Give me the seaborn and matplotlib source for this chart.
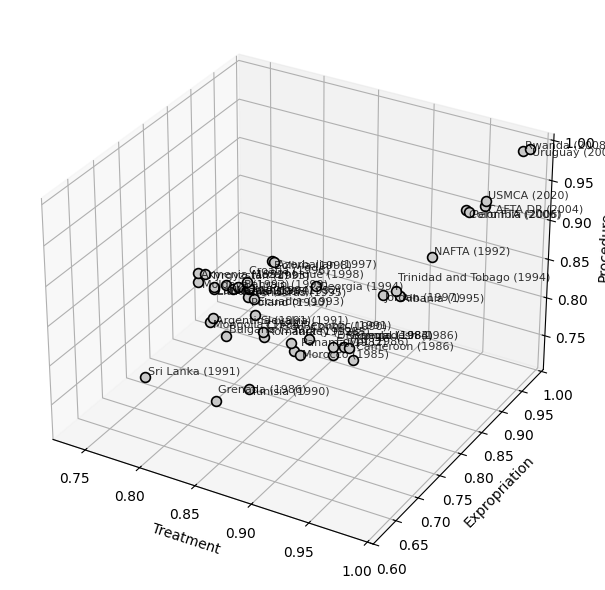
import matplotlib
matplotlib.use("Agg")
import matplotlib.pyplot as plt
from mpl_toolkits.mplot3d import proj3d
import seaborn as sns

labels = ["Rwanda (2008)", "Uruguay (2005)", "USMCA (2020)", "CAFTA DR (2004)", "Colombia (2006)", "Peru FTA (2006)",
          "NAFTA (1992)", "Trinidad and Tobago (1994)", "Albania (1995)", "Jordan (1997)", "Georgia (1994)",
          "Bolivia (1998)", "Azerbaijan (1997)", "Armenia (1992)", "Kyrgyzstan (1993)", "Moldova (1993)",
          "Latvia (1995)", "Lithuania (1998)", "Ukraine (1994)", "Kazakhstan (1992)", "Bahrain (1999)",
          "Croatia (1996)", "Mozambique (1998)", "Honduras (1995)", "Poland (1990)", "Ecuador (1993)",
          "Slovakia (1991)", "Argentina (1991)", "Mongolia (1994)", "Bulgaria (1992)", "Czech Republic (1991)",
          "Romania (1992)", "Congo (1990)", "Turkey (1985)", "Panama (1982)", "Morocco (1985)", "Egypt (1986)",
          "DR Congo (1984)", "Senegal (1983)", "Bangladesh (1986)", "Cameroon (1986)", "Tunisia (1990)",
          "Grenada (1986)", "Sri Lanka (1991)"]
treatment = [0.991, 0.997, 0.967, 0.967, 0.961, 0.963, 0.939, 0.927, 0.930, 0.915, 0.875,
             0.836, 0.838, 0.768, 0.774, 0.768, 0.782, 0.782, 0.794, 0.800, 0.805,
             0.813, 0.815, 0.815, 0.814, 0.819, 0.841, 0.803, 0.800, 0.815, 0.848,
             0.849, 0.889, 0.873, 0.876, 0.881, 0.911, 0.911, 0.920, 0.925, 0.928,
             0.856, 0.826, 0.761]
expropriation = [0.97, 0.97, 0.95, 0.95, 0.92, 0.92, 0.90, 0.85, 0.85, 0.85, 0.80,
                 0.80, 0.80, 0.80, 0.80, 0.80, 0.80, 0.80, 0.80, 0.80, 0.80,
                 0.80, 0.80, 0.80, 0.80, 0.80, 0.75, 0.75, 0.75, 0.75, 0.75,
                 0.75, 0.75, 0.75, 0.75, 0.75, 0.75, 0.75, 0.75, 0.75, 0.75,
                 0.70, 0.70, 0.70]
procedure = [0.998, 1.002, 0.936, 0.930, 0.936, 0.935, 0.878, 0.854, 0.850, 0.844, 0.865,
             0.880, 0.880, 0.838, 0.839, 0.826, 0.825, 0.823, 0.833, 0.830, 0.834,
             0.844, 0.837, 0.836, 0.825, 0.825, 0.839, 0.819, 0.813, 0.801, 0.820,
             0.814, 0.828, 0.817, 0.808, 0.805, 0.818, 0.828, 0.832, 0.832, 0.819,
             0.777, 0.748, 0.751]

# pixel nudges so the overlapping labels land where they do in the original
label_dx = [2, 2, 2, 3, 3, 3, 2, 2, 2, 2, 3, 2, 3, 3, 3, 4, 3, 3, 3, 3, 6,
            2, 3, 3, 3, 4, 6, 3, 3, 3, 3, 3, 2, 2, 7, 2, 3, 4, 3, 3, 3, 2, 2, 3]
label_dy = [2, -7, 2, -7, -7, -6, 2, 10, -6, -6, -4, -7, -6, -5, -5, -6, -6, -6, -9, -5, 0,
            9, 10, -6, -8, -6, -9, -6, -6, 3, 3, 3, 9, 8, 5, -3, 10, 8, 8, 9, 10, -6, 9, 2]

x_ticks = [0.75, 0.80, 0.85, 0.90, 0.95, 1.00]
y_ticks = [0.60, 0.65, 0.70, 0.75, 0.80, 0.85, 0.90, 0.95, 1.00]
z_ticks = [0.75, 0.80, 0.85, 0.90, 0.95, 1.00]

sns.reset_orig()
plt.rcParams["font.family"] = "DejaVu Sans"

W, H = 605, 590
S = 570
fig = plt.figure(figsize=(W / 100, H / 100), dpi=100)
ax = fig.add_axes([(295 - S / 2) / W, (295 - S / 2) / H, S / W, S / H], projection="3d")

ax.scatter(treatment, expropriation, procedure, s=50, c="#c8c8c8", edgecolors="k", linewidths=1.2, depthshade=False)

ax.set_xlim(0.72, 1.005)
ax.set_ylim(0.6, 1.005)
ax.set_zlim(0.705, 1.008)
ax.set_xticks(x_ticks)
ax.set_yticks(y_ticks)
ax.set_zticks(z_ticks)
ax.set_xlabel("Treatment")
ax.set_ylabel("Expropriation")
ax.set_zlabel("Procedure")

fig.canvas.draw()
for i, name in enumerate(labels):
    px, py, _ = proj3d.proj_transform(treatment[i], expropriation[i], procedure[i], ax.get_proj())
    ax.annotate(name, (px, py), xytext=(label_dx[i], label_dy[i]), textcoords="offset pixels",
                fontsize=8, alpha=0.8)

fig.savefig("out.png", dpi=100)
